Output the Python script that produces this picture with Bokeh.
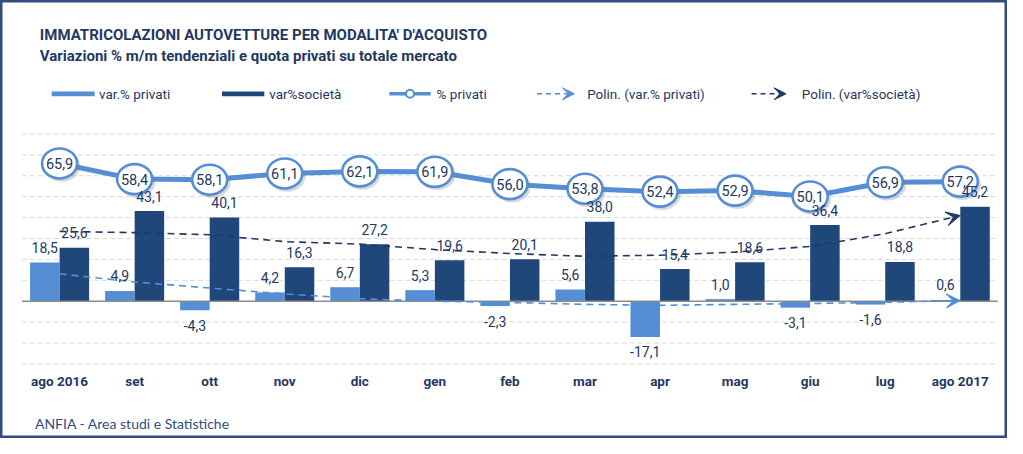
from bokeh.plotting import figure
from bokeh.models import Range1d, ColumnDataSource, Arrow, VeeHead
from bokeh.core.properties import value
from bokeh.embed import file_html
from bokeh.resources import INLINE

# ---------------- data ----------------
months = ["ago 2016", "set", "ott", "nov", "dic", "gen", "feb", "mar", "apr", "mag", "giu", "lug", "ago 2017"]
var_privati = [18.5, 4.9, -4.3, 4.2, 6.7, 5.3, -2.3, 5.6, -17.1, 1.0, -3.1, -1.6, 0.6]
var_societa = [25.6, 43.1, 40.1, 16.3, 27.2, 19.6, 20.1, 38.0, 15.4, 18.6, 36.4, 18.8, 45.2]
quota_privati = [65.9, 58.4, 58.1, 61.1, 62.1, 61.9, 56.0, 53.8, 52.4, 52.9, 50.1, 56.9, 57.2]
# polynomial trendlines
trend_privati = [13.1, 9.2, 6.3, 3.5, 1.2, 0.0, -0.6, -1.5, -2.0, -1.5, -1.1, -0.5, 0.3]
trend_societa = [33.4, 32.8, 31.8, 28.5, 27.3, 24.7, 22.8, 21.5, 22.0, 23.5, 26.2, 32.3, 41.0]
grid_ticks = [-30, -20, -10, 10, 20, 30, 40, 50, 60, 70, 80]

# ---------------- style ----------------
LIGHT = "#558ED5"
DARK = "#1F477A"
NAVY = "#1F3864"
FONT = "Roboto"
FOOT_FONT = "Lato"

W, H = 1007, 438
REF_W, REF_H = 1023, 454


def X(px):  # layout helper: reference pixel -> x data
    return (px - 60) / 76.25


def Y(py):  # layout helper: reference pixel -> y data
    return (311.7 - py) / 2.167


p = figure(width=W, height=H, x_range=Range1d(X(0), X(REF_W)), y_range=Range1d(Y(REF_H), Y(0)),
           output_backend="svg", toolbar_location=None, x_axis_type=None, y_axis_type=None,
           min_border=0, background_fill_color="white", border_fill_color="white")
p.grid.visible = False
p.outline_line_color = "#2F4E7E"
p.outline_line_width = 4

idx = list(range(len(months)))
left_edge, right_edge = -0.5, len(months) - 0.5

# grid lines
p.segment(x0=[left_edge] * len(grid_ticks), x1=[right_edge] * len(grid_ticks), y0=grid_ticks, y1=grid_ticks,
          line_color="#D9D9D9", line_width=1, line_dash="5 3")

# bars
off = 0.197
bw = 0.393
p.vbar(x=[i - off for i in idx], top=var_privati, bottom=0, width=bw, fill_color=LIGHT, line_color=None)
p.vbar(x=[i + off for i in idx], top=var_societa, bottom=0, width=bw, fill_color=DARK, line_color=None)

# zero line
p.segment(x0=[left_edge], x1=[right_edge], y0=[0], y1=[0], line_color="#8C8C8C", line_width=1.5)


def fmt(v):
    return f"{v:.1f}".replace(".", ",")


# trendlines
p.line(idx[:-1], trend_privati[:-1], line_color=LIGHT, line_width=1.6, line_dash="7 5")
p.line(idx[:-1], trend_societa[:-1], line_color=NAVY, line_width=1.6, line_dash="7 5")
p.add_layout(Arrow(x_start=idx[-2], y_start=trend_privati[-2], x_end=idx[-1], y_end=trend_privati[-1],
                   line_color=LIGHT, line_width=1.6, line_dash="7 5",
                   end=VeeHead(size=14, fill_color=LIGHT, line_color=LIGHT)))
p.add_layout(Arrow(x_start=idx[-2], y_start=trend_societa[-2], x_end=idx[-1], y_end=trend_societa[-1],
                   line_color=NAVY, line_width=1.6, line_dash="7 5",
                   end=VeeHead(size=14, fill_color=NAVY, line_color=NAVY)))

# % privati line with circles
p.line(idx, quota_privati, line_color=LIGHT, line_width=5)
shadow = ColumnDataSource(dict(x=[i + 0.03 for i in idx], y=[v - 1.3 for v in quota_privati]))
p.ellipse(x="x", y="y", width=37, height=31, width_units="screen", height_units="screen",
          source=shadow, fill_color="#7F7F7F", fill_alpha=0.3, line_color=None)
p.ellipse(x=idx, y=quota_privati, width=35, height=30, width_units="screen", height_units="screen",
          fill_color="white", line_color=LIGHT, line_width=2.6)
p.text(x=idx, y=quota_privati, text=[fmt(v) for v in quota_privati], text_font=value(FONT),
       text_font_size="14.5px", text_align="center", text_baseline="middle", text_color=NAVY)

# bar labels
lab_p = ColumnDataSource(dict(x=[i - off for i in idx], y=var_privati,
                              t=[fmt(v) for v in var_privati],
                              yo=[-15 if v >= 0 else 15 for v in var_privati]))
lab_s = ColumnDataSource(dict(x=[i + off for i in idx], y=var_societa,
                              t=[fmt(v) for v in var_societa],
                              yo=[-15 if v >= 0 else 15 for v in var_societa]))
for src in (lab_p, lab_s):
    p.text(x="x", y="y", text="t", y_offset="yo", source=src, text_font=value(FONT),
           text_font_size="14px", text_align="center", text_baseline="middle", text_color=NAVY)

# month labels
p.text(x=idx, y=[Y(394)] * len(months), text=months, text_font=value(FONT), text_font_size="13.5px",
       text_font_style="bold", text_align="center", text_baseline="middle", text_color=NAVY)

# title
p.text(x=[X(40)], y=[Y(36)], text=["IMMATRICOLAZIONI AUTOVETTURE PER MODALITA' D'ACQUISTO"],
       text_font=value(FONT), text_font_size="15px", text_font_style="bold", text_align="left",
       text_baseline="middle", text_color=NAVY)
p.text(x=[X(40)], y=[Y(57.5)], text=["Variazioni % m/m tendenziali e quota privati su totale mercato"],
       text_font=value(FONT), text_font_size="15px", text_font_style="bold", text_align="left",
       text_baseline="middle", text_color=NAVY)

# legend
LY = Y(96.7)
p.quad(left=[X(52)], right=[X(95.7)], top=[Y(94.3)], bottom=[Y(99.3)], fill_color=LIGHT, line_color=None)
p.quad(left=[X(225)], right=[X(268)], top=[Y(94.3)], bottom=[Y(99.3)], fill_color=DARK, line_color=None)
p.line([X(395), X(437)], [LY, LY], line_color=LIGHT, line_width=3.5)
p.scatter([X(416)], [LY], size=8, marker="circle", fill_color="white", line_color=LIGHT, line_width=2)
p.add_layout(Arrow(x_start=X(545), y_start=LY, x_end=X(583), y_end=LY, line_color=LIGHT, line_width=1.6,
                   line_dash="5 4", end=VeeHead(size=12, fill_color=LIGHT, line_color=LIGHT)))
p.add_layout(Arrow(x_start=X(763), y_start=LY, x_end=X(798), y_end=LY, line_color=NAVY, line_width=1.6,
                   line_dash="5 4", end=VeeHead(size=12, fill_color=NAVY, line_color=NAVY)))
legend_labels = ["var.% privati", "var%società", "% privati", "Polin. (var.% privati)", "Polin. (var%società)"]
legend_x = [X(100), X(273), X(443), X(596), X(814)]
p.text(x=legend_x, y=[LY] * len(legend_labels), text=legend_labels, text_font=value(FONT),
       text_font_size="13.5px", text_align="left", text_baseline="middle", text_color=NAVY)

# footer
p.text(x=[X(35)], y=[Y(438)], text=["ANFIA - Area studi e Statistiche"], text_font=value(FOOT_FONT),
       text_font_size="14px", text_align="left", text_baseline="middle", text_color="#2F4E7E")

open("out.html", "w").write(file_html(p, INLINE))
